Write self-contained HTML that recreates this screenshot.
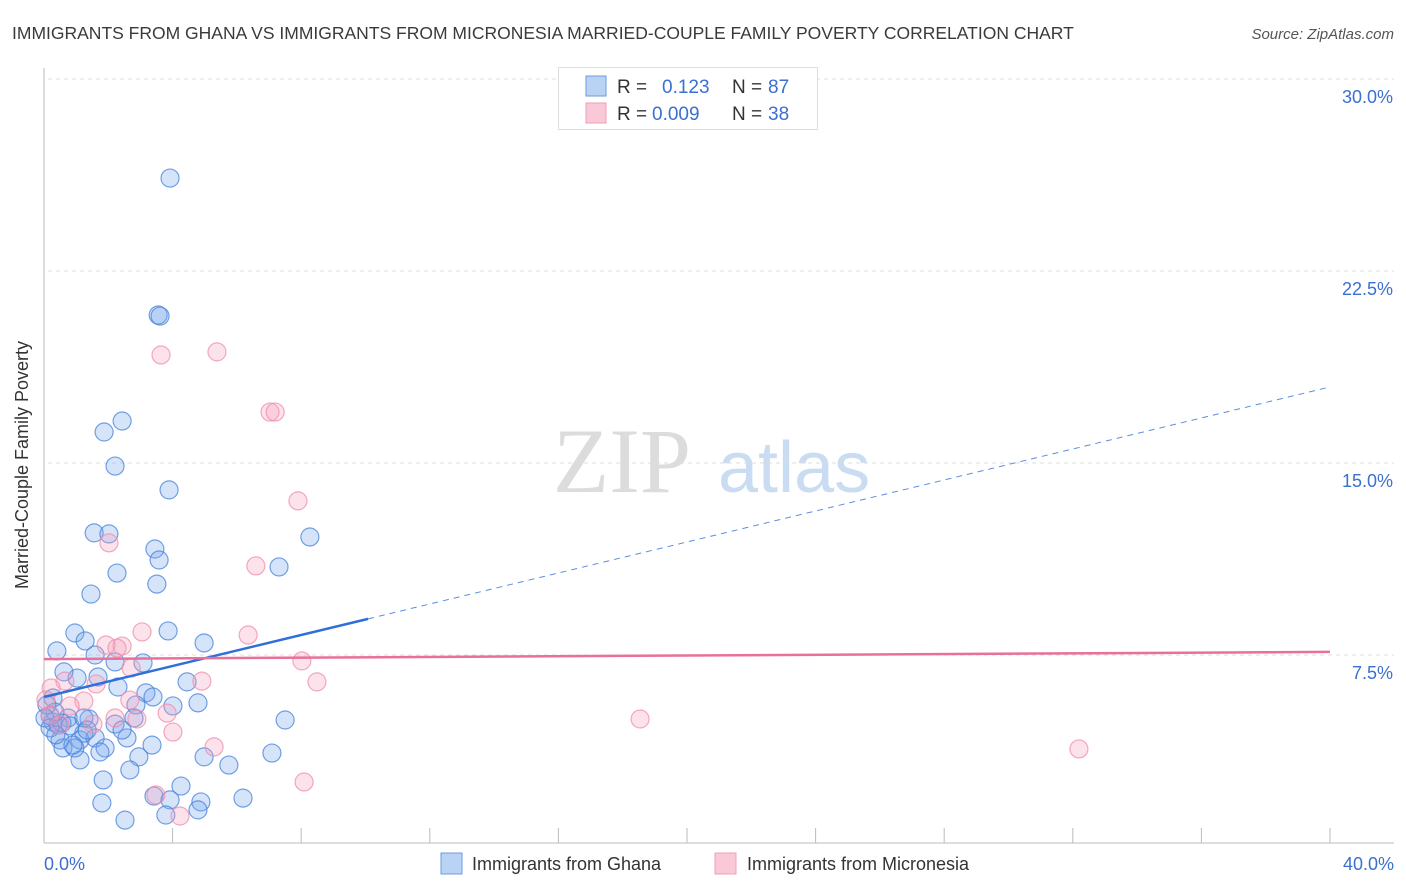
<!DOCTYPE html>
<html><head><meta charset="utf-8"><style>
body{margin:0;background:#fff;font-family:"Liberation Sans",sans-serif;}
svg{display:block}
</style></head><body>
<svg id="chart" width="1406" height="892" xmlns="http://www.w3.org/2000/svg">
<text x="12" y="39" font-size="17.5" fill="#3a3a3a">IMMIGRANTS FROM GHANA VS IMMIGRANTS FROM MICRONESIA MARRIED-COUPLE FAMILY POVERTY CORRELATION CHART</text>
<text x="1394" y="39" font-size="15" fill="#555" font-style="italic" text-anchor="end">Source: ZipAtlas.com</text>
<g>
<text x="553" y="492" font-size="92" font-family="Liberation Serif,serif" fill="#dcdcdc">ZIP</text>
<text x="718" y="492" font-size="72" fill="#c9dcf2">atlas</text>
</g>
<g id="grid"></g>
<line x1="44" y1="68" x2="44" y2="843" stroke="#bbb"/>
<line x1="44" y1="843" x2="1394" y2="843" stroke="#bbb"/>
<g id="ticks"></g>
<g id="pts"></g>
<g id="trends"></g>
<text x="20" y="457" font-size="18" fill="#333" text-anchor="middle" transform="rotate(-90 28 457)">Married-Couple Family Poverty</text>
<text x="44" y="870" font-size="18" fill="#3b6fd0">0.0%</text>
<text x="1394" y="870" font-size="18" fill="#3b6fd0" text-anchor="end">40.0%</text>
<g>
<rect x="558.5" y="67.5" width="259" height="62" fill="#fff" stroke="#ddd"/>
<rect x="586" y="76" width="20" height="20" fill="#b9d3f5" stroke="#6e9be0"/>
<rect x="586" y="103" width="20" height="20" fill="#f9c9d7" stroke="#f0a0b8"/>
<text y="93" font-size="19"><tspan x="617" fill="#333">R = </tspan><tspan x="662" fill="#3b6fd0">0.123</tspan><tspan x="732" fill="#333">N = </tspan><tspan x="768" fill="#3b6fd0">87</tspan></text>
<text y="120" font-size="19"><tspan x="617" fill="#333">R = </tspan><tspan x="652" fill="#3b6fd0">0.009</tspan><tspan x="732" fill="#333">N = </tspan><tspan x="768" fill="#3b6fd0">38</tspan></text>
</g>
<g>
<rect x="441" y="853" width="21" height="21" fill="#b9d3f5" stroke="#6e9be0"/>
<text x="472" y="870" font-size="18" fill="#333">Immigrants from Ghana</text>
<rect x="715" y="853" width="21" height="21" fill="#f9c9d7" stroke="#f0a0b8"/>
<text x="747" y="870" font-size="18" fill="#333">Immigrants from Micronesia</text>
</g>
</svg>
<script>
const yTicks=[7.5,15,22.5,30];
const yTickLabels=["7.5%","15.0%","22.5%","30.0%"];
const xTicks=[4,8,12,16,20,24,28,32,36,40];
const ghanaX=[3.92,3.55,3.61,2.43,1.87,2.21,3.89,1.56,2.02,3.45,3.58,2.27,3.51,7.31,8.27,1.46,0.96,3.86,4.98,0.40,1.28,1.59,2.21,3.08,1.03,1.68,0.62,4.45,2.30,3.17,3.39,0.28,4.79,2.86,4.01,2.80,7.50,0.75,1.40,2.21,0.28,0.44,0.56,0.19,0.50,1.12,1.59,1.90,2.58,3.36,1.74,1.12,2.95,4.98,5.75,7.09,0.59,0.96,1.84,2.67,4.26,3.42,1.80,3.92,4.88,6.19,3.79,4.79,2.52,1.24,0.81,0.34,0.09,1.24,2.43,0.03,0.19,0.37,0.90,1.34];
const ghanaY=[26.13,20.78,20.74,16.64,16.21,14.88,13.95,12.27,12.23,11.64,11.21,10.70,10.27,10.94,12.11,9.88,8.36,8.44,7.97,7.66,8.05,7.50,7.23,7.19,6.60,6.64,6.84,6.45,6.25,6.02,5.86,5.82,5.63,5.55,5.51,5.04,4.96,5.04,5.00,4.80,4.88,4.77,4.84,5.12,4.18,4.18,4.26,3.87,4.26,3.98,3.71,3.40,3.52,3.52,3.20,3.67,3.87,3.87,2.62,3.01,2.38,1.99,1.72,1.84,1.76,1.91,1.25,1.45,1.05,4.45,4.73,5.27,5.55,5.04,4.57,5.04,4.65,4.38,3.98,4.57];
const micX=[3.64,5.38,7.03,7.19,7.90,2.02,6.59,3.05,6.35,1.93,2.43,2.27,8.02,2.71,8.49,4.91,1.62,0.65,1.24,0.22,3.83,2.21,2.89,18.54,4.01,1.52,5.29,32.19,8.09,3.48,4.23,0.50,0.06,0.81,2.67,0.19];
const micY=[19.22,19.34,16.99,16.99,13.52,11.88,10.98,8.40,8.28,7.89,7.85,7.77,7.27,6.99,6.45,6.48,6.37,6.48,5.70,6.21,5.23,5.04,5.00,5.00,4.49,4.80,3.91,3.83,2.54,2.03,1.21,4.77,5.74,5.51,5.74,5.16];
const ghanaTrend=[5.86,17.97];
const micTrend=[7.34,7.62];
const ghanaSolidEnd=10.08;

const NS="http://www.w3.org/2000/svg";
const xs=v=>44+v*(1286/40);
const ys=v=>847-v*(192/7.5);
function mk(tag,attrs,parent){const e=document.createElementNS(NS,tag);for(const k in attrs)e.setAttribute(k,attrs[k]);parent.appendChild(e);return e;}
const grid=document.getElementById('grid');
yTicks.forEach((t,i)=>{
  const l=mk('line',{x1:48,x2:1394,y1:ys(t),y2:ys(t),stroke:'#ddd','stroke-dasharray':'4,4'},grid);
  
  
  const tx=mk('text',{x:1393,y:ys(t)+24,'font-size':18,fill:'#3b6fd0','text-anchor':'end'},grid);
  tx.textContent=yTickLabels[i];
  
  
});
const ticks=document.getElementById('ticks');
xTicks.forEach(t=>{
  const l=mk('line',{x1:xs(t),x2:xs(t),y1:828,y2:843,stroke:'#bbb'},ticks);
  
  
});
const pts=document.getElementById('pts');
ghanaX.forEach((x,i)=>{
  const c=mk('circle',{cx:xs(x),cy:ys(ghanaY[i]),r:9,fill:'rgba(120,165,235,0.3)',stroke:'rgba(70,130,220,0.75)','stroke-width':1.2},pts);
  
  
});
micX.forEach((x,i)=>{
  const c=mk('circle',{cx:xs(x),cy:ys(micY[i]),r:9,fill:'rgba(245,160,190,0.3)',stroke:'rgba(240,140,170,0.75)','stroke-width':1.2},pts);
  
  
});
const tr=document.getElementById('trends');
const gy=x=>ghanaTrend[0]+(ghanaTrend[1]-ghanaTrend[0])*x/40;
const l1=mk('line',{x1:xs(0),y1:ys(gy(0)),x2:xs(ghanaSolidEnd),y2:ys(gy(ghanaSolidEnd)),stroke:'#2f6fd8','stroke-width':2.5},tr);


const l2=mk('line',{x1:xs(ghanaSolidEnd),y1:ys(gy(ghanaSolidEnd)),x2:xs(40),y2:ys(gy(40)),stroke:'#5b8fe0','stroke-width':1,'stroke-dasharray':'6,5'},tr);


const l3=mk('line',{x1:xs(0),y1:ys(micTrend[0]),x2:xs(40),y2:ys(micTrend[1]),stroke:'#e8709a','stroke-width':2.5},tr);


</script>
</body></html>
